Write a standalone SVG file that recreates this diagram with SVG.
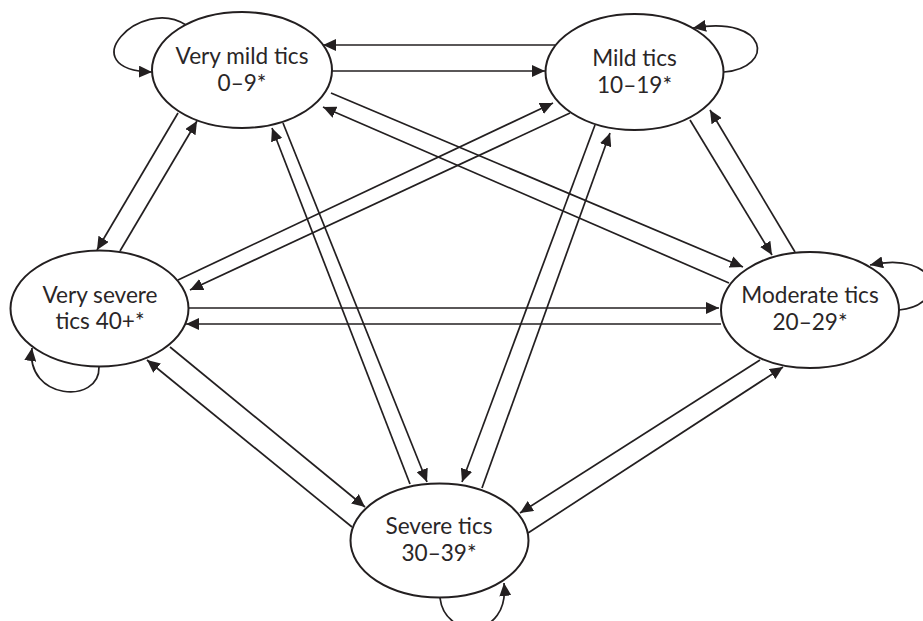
<svg xmlns="http://www.w3.org/2000/svg" width="923" height="621" viewBox="0 0 923 621">
<style>
.node ellipse{fill:#fff;stroke:#231f20;stroke-width:2}
.node text{font-family:Lato,"Open Sans","Liberation Sans",sans-serif;font-size:22.6px;fill:#2a2627;text-anchor:middle}
.conn path{fill:none;stroke:#231f20;stroke-width:1.7;marker-end:url(#ah)}
</style>
<defs>
<marker id="ah" markerUnits="userSpaceOnUse" markerWidth="14" markerHeight="12" refX="13" refY="6" orient="auto">
<path d="M0,0 L13,6 L0,12 z" fill="#231f20"/>
</marker>
</defs>
<rect width="923" height="621" fill="#fff"/>
<g id="connectors" class="conn">
<path d="M332,71 L545,71"/>
<path d="M555,45 L323,45"/>
<path d="M178,113 L97,250"/>
<path d="M120,251 L197,121"/>
<path d="M331,93 L743,267"/>
<path d="M729,283 L323,107"/>
<path d="M283,123 L427,482"/>
<path d="M410,484 L272,128"/>
<path d="M570,113 L190,290"/>
<path d="M178,280 L553,103"/>
<path d="M690,120 L772,255"/>
<path d="M795,252 L710,110"/>
<path d="M595,125 L462,482"/>
<path d="M482,488 L610,133"/>
<path d="M188,308 L719,308"/>
<path d="M721,324 L186,324"/>
<path d="M170,347 L365,507"/>
<path d="M352,527 L147,360"/>
<path d="M760,360 L520,513"/>
<path d="M528,533 L783,367"/>
<path d="M186,25 C140,-5 70,70 152,72"/>
<path d="M724,72 C775,68 770,15 693,28"/>
<path d="M99,367 C100,405 25,400 32,348"/>
<path d="M899,310 C950,305 940,250 870,265"/>
<path d="M440,598 C445,640 510,640 504,583"/>
</g>
<g id="n1" class="node"><ellipse cx="242" cy="70" rx="90" ry="58"/><text x="242" y="64">Very mild tics</text><text x="242" y="91">0–9*</text></g>
<g id="n2" class="node"><ellipse cx="634.5" cy="72" rx="89" ry="58"/><text x="634.5" y="66">Mild tics</text><text x="634.5" y="93">10–19*</text></g>
<g id="n3" class="node"><ellipse cx="99.5" cy="308.5" rx="89" ry="58"/><text x="100" y="303">Very severe</text><text x="100" y="329">tics 40+*</text></g>
<g id="n4" class="node"><ellipse cx="810" cy="310" rx="89" ry="58"/><text x="810" y="303">Moderate tics</text><text x="810" y="330">20–29*</text></g>
<g id="n5" class="node"><ellipse cx="439.5" cy="540.5" rx="89" ry="57"/><text x="439" y="534">Severe tics</text><text x="439" y="561">30–39*</text></g>
</svg>
